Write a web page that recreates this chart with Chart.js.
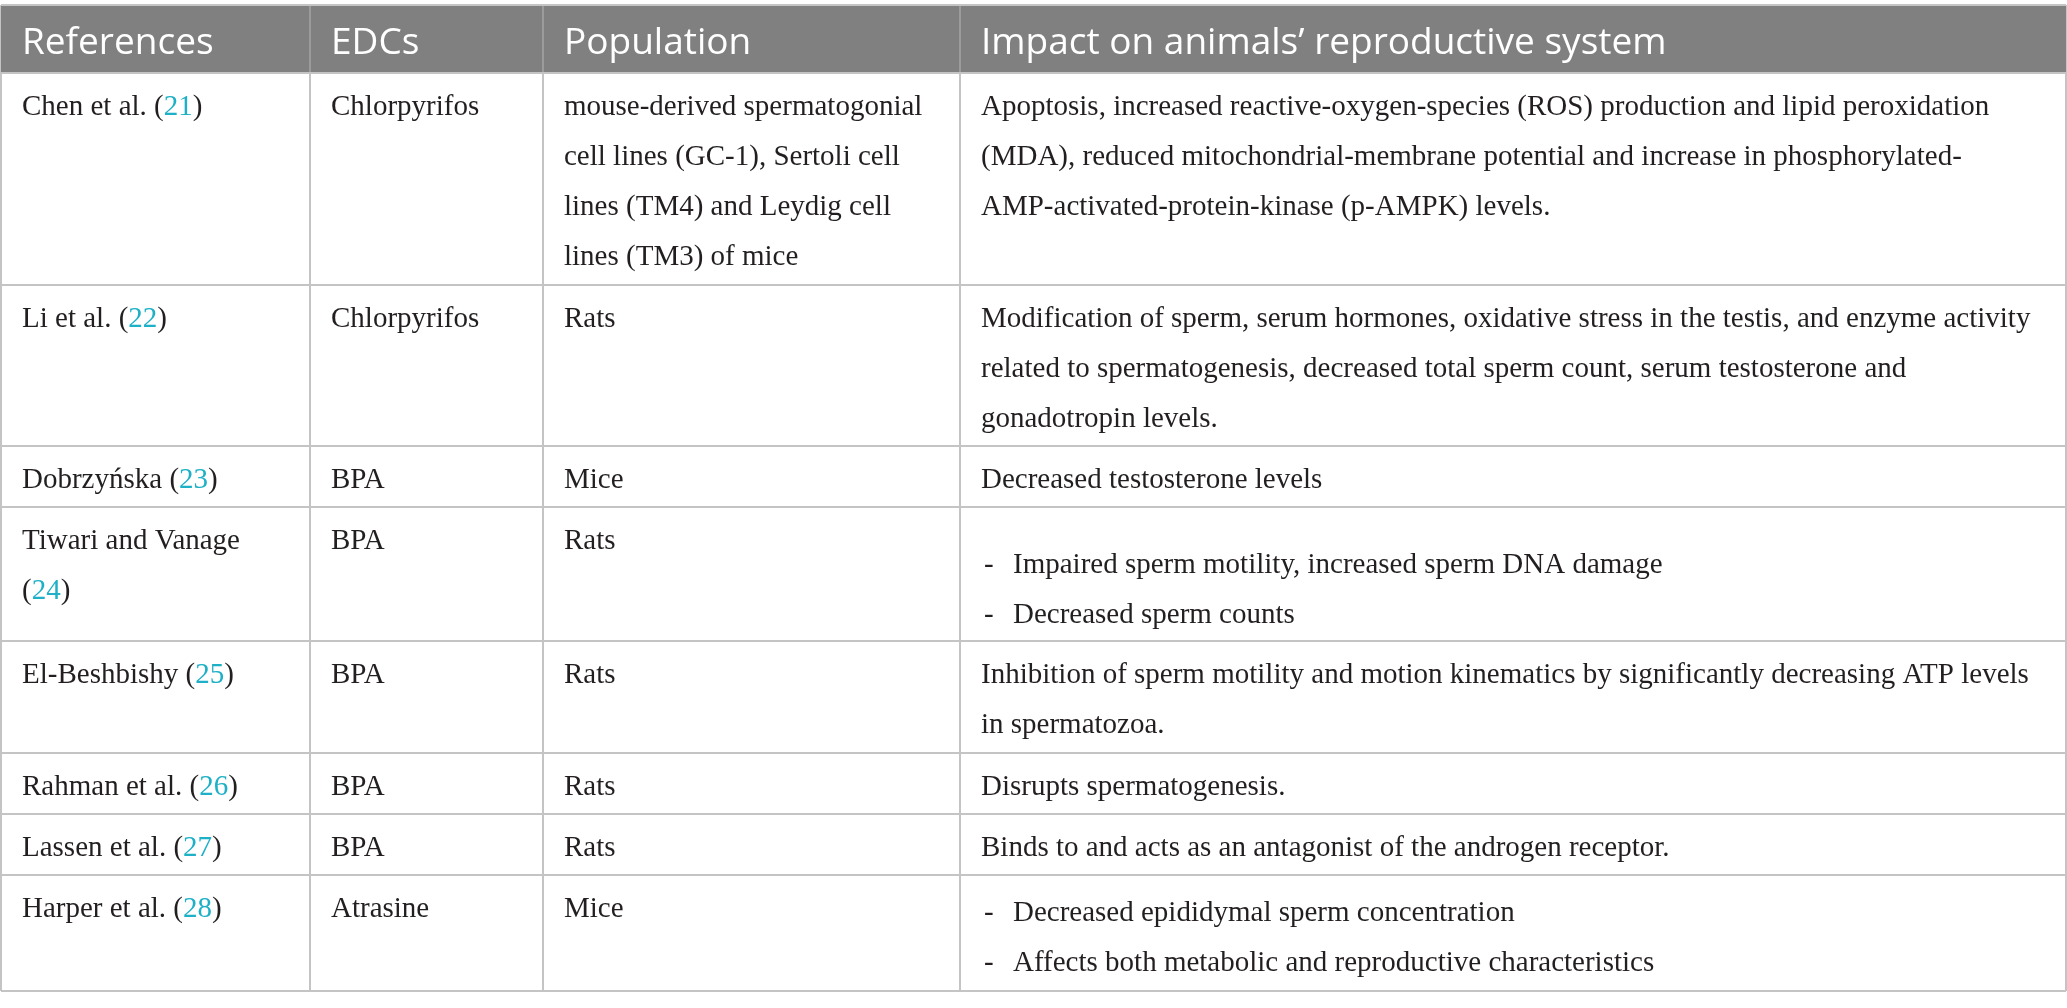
<!DOCTYPE html>
<html>
<head>
<meta charset="utf-8">
<script src="https://cdn.jsdelivr.net/npm/chart.js@4.4.1/dist/chart.umd.min.js"></script>
<style>
  html, body { margin: 0; padding: 0; background: #fff; }
  #wrap { width: 2067px; height: 1008px; position: relative; }
</style>
</head>
<body>
<div id="wrap"><canvas id="tableChart"></canvas></div>
<script>
// table content
const headers = ['References', 'EDCs', 'Population', 'Impact on animals\u2019 reproductive system'];
const refNames = ['Chen et al.', 'Li et al.', 'Dobrzy\u0144ska', 'Tiwari and Vanage', 'El-Beshbishy', 'Rahman et al.', 'Lassen et al.', 'Harper et al.'];
const refNumbers = [21, 22, 23, 24, 25, 26, 27, 28];
const edcs = ['Chlorpyrifos', 'Chlorpyrifos', 'BPA', 'BPA', 'BPA', 'BPA', 'BPA', 'Atrasine'];
const populations = [
    ['mouse-derived spermatogonial', 'cell lines (GC-1), Sertoli cell', 'lines (TM4) and Leydig cell', 'lines (TM3) of mice'],
    ['Rats'],
    ['Mice'],
    ['Rats'],
    ['Rats'],
    ['Rats'],
    ['Rats'],
    ['Mice']
];
const impacts = [
    ['Apoptosis, increased reactive-oxygen-species (ROS) production and lipid peroxidation',
     '(MDA), reduced mitochondrial-membrane potential and increase in phosphorylated-',
     'AMP-activated-protein-kinase (p-AMPK) levels.'],
    ['Modification of sperm, serum hormones, oxidative stress in the testis, and enzyme activity',
     'related to spermatogenesis, decreased total sperm count, serum testosterone and',
     'gonadotropin levels.'],
    ['Decreased testosterone levels'],
    ['Impaired sperm motility, increased sperm DNA damage', 'Decreased sperm counts'],
    ['Inhibition of sperm motility and motion kinematics by significantly decreasing ATP levels',
     'in spermatozoa.'],
    ['Disrupts spermatogenesis.'],
    ['Binds to and acts as an antagonist of the androgen receptor.'],
    ['Decreased epididymal sperm concentration', 'Affects both metabolic and reproductive characteristics']
];
const impactIsList = [false, false, false, true, false, false, false, true];

// layout, in page pixels
const colEdges = [1, 310, 543, 960, 2066];
const rowEdges = [5, 73, 285, 446, 507, 641, 753, 814, 875, 991];
const listShift = [0, 0, 0, 24, 0, 0, 0, 4];
const cellPad = 21;
const lineGap = 50;

const bodyFont = '29px "Liberation Serif", serif';
const headFont = '37px "Open Sans", sans-serif';
const ink = '#231f20';
const refColor = '#1eb0c6';
const headBg = '#7f807f';

const tablePlugin = {
    id: 'tableText',
    beforeDatasetsDraw(chart) {
        const ctx = chart.ctx;
        const x = chart.scales.x, y = chart.scales.y;
        // header band over the grid
        const x0 = x.getPixelForValue(colEdges[0]), x1 = x.getPixelForValue(colEdges[4]);
        const y0 = y.getPixelForValue(rowEdges[0]), y1 = y.getPixelForValue(rowEdges[1]);
        ctx.save();
        ctx.fillStyle = headBg;
        ctx.fillRect(x0, y0 + 1, x1 - x0, y1 - y0 - 2);
        ctx.strokeStyle = '#9a9b9a';
        ctx.lineWidth = 2;
        for (let c = 1; c < colEdges.length - 1; c++) {
            const px = Math.round(x.getPixelForValue(colEdges[c]));
            ctx.beginPath();
            ctx.moveTo(px, y0 + 1);
            ctx.lineTo(px, y1 - 1);
            ctx.stroke();
        }
        ctx.restore();
    },
    afterDraw(chart) {
        const ctx = chart.ctx;
        const x = chart.scales.x, y = chart.scales.y;
        ctx.save();
        ctx.textBaseline = 'alphabetic';
        ctx.textAlign = 'left';

        // header texts
        ctx.font = headFont;
        ctx.fillStyle = '#ffffff';
        headers.forEach((h, c) => {
            ctx.fillText(h, x.getPixelForValue(colEdges[c] + cellPad), y.getPixelForValue(rowEdges[0] + 49));
        });

        ctx.font = bodyFont;
        for (let r = 0; r < refNames.length; r++) {
            const top = rowEdges[r + 1];
            const base = top + 41.5;
            const py = i => y.getPixelForValue(base + i * lineGap);

            // references with coloured number
            let px = x.getPixelForValue(colEdges[0] + cellPad);
            const inner = colEdges[1] - colEdges[0] - 2 * cellPad;
            const full = refNames[r] + ' (' + refNumbers[r] + ')';
            let line = 0;
            let cx = px;
            if (ctx.measureText(full).width > inner) {
                ctx.fillStyle = ink;
                ctx.fillText(refNames[r], px, py(0));
                line = 1;
            } else {
                ctx.fillStyle = ink;
                ctx.fillText(refNames[r] + ' ', px, py(0));
                cx = px + ctx.measureText(refNames[r] + ' ').width;
            }
            ctx.fillStyle = ink;
            ctx.fillText('(', cx, py(line));
            cx += ctx.measureText('(').width;
            ctx.fillStyle = refColor;
            ctx.fillText(String(refNumbers[r]), cx, py(line));
            cx += ctx.measureText(String(refNumbers[r])).width;
            ctx.fillStyle = ink;
            ctx.fillText(')', cx, py(line));

            // EDCs
            ctx.fillText(edcs[r], x.getPixelForValue(colEdges[1] + cellPad), py(0));

            // population
            populations[r].forEach((t, i) => {
                ctx.fillText(t, x.getPixelForValue(colEdges[2] + cellPad), py(i));
            });

            // impact
            const ix = x.getPixelForValue(colEdges[3] + cellPad);
            impacts[r].forEach((t, i) => {
                if (impactIsList[r]) {
                    const yy = y.getPixelForValue(base + listShift[r] + i * lineGap);
                    ctx.fillText('-', ix + 3, yy);
                    ctx.fillText(t, ix + 32, yy);
                } else {
                    ctx.fillText(t, ix, py(i));
                }
            });
        }
        ctx.restore();
    }
};

const ctx = document.getElementById('tableChart').getContext('2d');
const tableChart = new Chart(ctx, {
    type: 'scatter',
    data: { datasets: [] },
    options: {
        responsive: true,
        maintainAspectRatio: false,
        animation: false,
        events: [],
        layout: {
            padding: { left: colEdges[0], right: 2067 - colEdges[4], top: rowEdges[0], bottom: 1008 - rowEdges[rowEdges.length - 1] }
        },
        plugins: {
            legend: { display: false },
            tooltip: { enabled: false }
        },
        scales: {
            x: {
                type: 'linear',
                min: colEdges[0],
                max: colEdges[colEdges.length - 1],
                afterBuildTicks: s => { s.ticks = colEdges.map(v => ({ value: v })); },
                ticks: { display: false },
                grid: { color: '#c4c4c4', lineWidth: 2, drawTicks: false },
                border: { display: false }
            },
            y: {
                type: 'linear',
                reverse: true,
                min: rowEdges[0],
                max: rowEdges[rowEdges.length - 1],
                afterBuildTicks: s => { s.ticks = rowEdges.map(v => ({ value: v })); },
                ticks: { display: false },
                grid: { color: '#c4c4c4', lineWidth: 2, drawTicks: false },
                border: { display: false }
            }
        }
    },
    plugins: [tablePlugin]
});
</script>
</body>
</html>
